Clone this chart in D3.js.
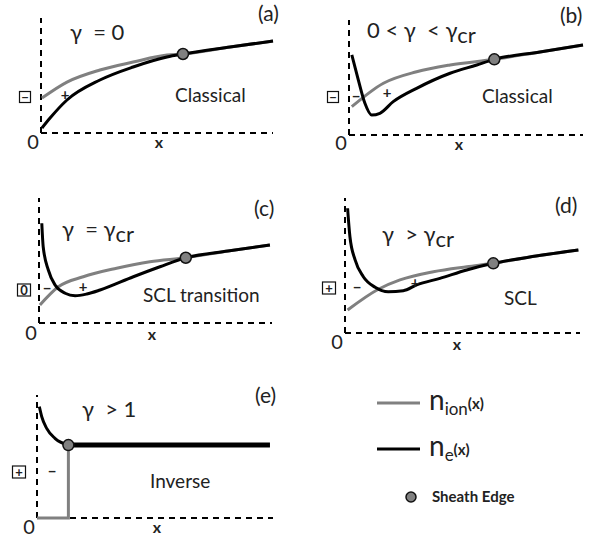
<!DOCTYPE html>
<html>
<head>
<meta charset="utf-8">
<script src="https://cdn.jsdelivr.net/npm/d3@7"></script>
<style>
  body { margin: 0; background: #fff; }
  text { font-family: Lato, "Liberation Sans", sans-serif; fill: #222; }
</style>
</head>
<body>
<svg id="chart" width="598" height="539"></svg>
<script>
// every panel uses normalised units: x and y both run 0..10 along the dashed axes

// (a) gamma = 0
const ionA = [[0.04, 3.04], [1.12, 4.43], [2.54, 5.48], [3.97, 6.17], [5.43, 6.78], [6.12, 6.87], [8.15, 7.48], [10, 8.0]];
const elecA = [[0.04, 0.43], [0.39, 1.3], [1.12, 2.87], [2.54, 4.61], [3.97, 5.74], [5.43, 6.61], [6.12, 6.87], [8.15, 7.48], [10, 8.0]];
const edgeA = [6.12, 6.87];

// (b) 0 < gamma < gamma_cr
const ionB = [[0.12, 2.46], [1.47, 4.5], [2.89, 5.5], [4.32, 6.09], [6.21, 6.58], [8.16, 7.22], [10, 7.83]];
const elecB = [[0.12, 6.96], [0.4, 4.78], [0.68, 2.76], [0.97, 1.74], [1.32, 1.89], [1.89, 2.9], [2.89, 4.06], [4.32, 5.37], [5.46, 6.09], [6.21, 6.58], [8.16, 7.22], [10, 7.83]];
const edgeB = [6.21, 6.58];

// (c) gamma = gamma_cr
const ionC = [[0.04, 1.44], [0.83, 2.9], [1.9, 3.7], [3.33, 4.38], [4.76, 4.9], [6.3, 5.22], [8.11, 5.76], [9.91, 6.24]];
const elecC = [[0.12, 7.98], [0.18, 6.1], [0.4, 4.24], [0.69, 3.04], [1.12, 2.38], [1.55, 2.18], [2.05, 2.32], [2.62, 2.64], [4.05, 3.7], [5.19, 4.5], [6.3, 5.22], [8.11, 5.76], [9.91, 6.24]];
const edgeC = [6.3, 5.22];

// (d) gamma > gamma_cr
const ionD = [[0.11, 1.7], [1.42, 3.24], [2.34, 3.93], [3.76, 4.54], [5.18, 4.91], [6.31, 5.16], [8.13, 5.7], [9.93, 6.15]];
const elecD = [[0.11, 9.24], [0.21, 7.13], [0.43, 5.41], [0.78, 4.17], [1.28, 3.39], [1.84, 3.06], [2.48, 3.13], [3.05, 3.56], [4.04, 4.05], [5.18, 4.67], [6.31, 5.16], [8.13, 5.7], [9.93, 6.15]];
const edgeD = [6.31, 5.16];

// (e) gamma > 1
const ionE = [[0, 0], [1.33, 0], [1.33, 5.93], [9.87, 5.93]];
const elecE = [[0.1, 9.05], [0.2, 8.24], [0.41, 7.29], [0.76, 6.48], [1.33, 5.93], [9.87, 5.93]];
const edgeE = [1.33, 5.93];

// titles: [text, subscript?]
const titleA = [["\u03b3  = 0", 0]];
const titleB = [["0 < \u03b3  < \u03b3", 0], ["cr", 1]];
const titleC = [["\u03b3  = \u03b3", 0], ["cr", 1]];
const titleD = [["\u03b3  > \u03b3", 0], ["cr", 1]];
const titleE = [["\u03b3  > 1", 0]];

const tags = ["(a)", "(b)", "(c)", "(d)", "(e)"];
const regimes = ["Classical", "Classical", "SCL transition", "SCL", "Inverse"];
const wallSigns = ["\u2212", "\u2212", "0", "+", "+"];
const legendItems = ["ion", "e"];

// panel frames (pixel layout only)
const panels = [
  { x0: 41, x1: 273, y0: 133, y1: 18, ion: ionA, elec: elecA, edge: edgeA, title: titleA,
    tx: 70, ty: 40, tagX: 258, tagY: 21, rx: 175, ry: 102, box: [25, 97, 11, 11], zeroY: 149, xLabY: 148, xLabX: 159,
    signs: [["+", 65, 100]] },
  { x0: 349, x1: 583, y0: 135, y1: 20, ion: ionB, elec: elecB, edge: edgeB, title: titleB,
    tx: 367, ty: 38, tagX: 560, tagY: 23, rx: 482, ry: 103, box: [333, 97, 11, 11], zeroY: 150, xLabY: 150, xLabX: 459,
    signs: [["\u2212", 356, 102], ["+", 387, 98]] },
  { x0: 39, x1: 272, y0: 323, y1: 198, ion: ionC, elec: elecC, edge: edgeC, title: titleC,
    tx: 62, ty: 237, tagX: 254, tagY: 216, rx: 143, ry: 302, box: [24, 290, 13, 12], zeroY: 340, xLabY: 340, xLabX: 152,
    signs: [["\u2212", 47, 294], ["+", 83, 292]] },
  { x0: 345, x1: 580, y0: 333, y1: 198, ion: ionD, elec: elecD, edge: edgeD, title: titleD,
    tx: 382, ty: 242, tagX: 555, tagY: 213, rx: 504, ry: 305, box: [329, 288, 13, 12], zeroY: 349, xLabY: 350, xLabX: 457,
    signs: [["\u2212", 357, 293], ["+", 415, 288]] },
  { x0: 37, x1: 273, y0: 518, y1: 395, ion: ionE, elec: elecE, edge: edgeE, title: titleE,
    tx: 82, ty: 417, tagX: 255, tagY: 403, rx: 150, ry: 488, box: [19, 472, 13, 12], zeroY: 534, xLabY: 533, xLabX: 157,
    signs: [["\u2212", 52, 477]] }
];

const GRAY = "#808080";
const svg = d3.select("#chart");

panels.forEach(function(p, i) {
  let x = d3.scaleLinear().domain([0, 10]).range([p.x0, p.x1]);
  let y = d3.scaleLinear().domain([0, 10]).range([p.y0, p.y1]);
  let g = svg.append("g").attr("id", "panel_" + tags[i].slice(1, 2));

  // dashed axes
  g.append("line")
    .attr("x1", x(0)).attr("y1", y(0)).attr("x2", x(10)).attr("y2", y(0))
    .attr("stroke", "#000").attr("stroke-width", 2).attr("stroke-dasharray", "6,5");
  g.append("line")
    .attr("x1", x(0)).attr("y1", y(0)).attr("x2", x(0)).attr("y2", y(10))
    .attr("stroke", "#000").attr("stroke-width", 2).attr("stroke-dasharray", "6,5");

  let smooth = d3.line()
    .x(function(d) { return x(d[0]); })
    .y(function(d) { return y(d[1]); })
    .curve(d3.curveMonotoneX);
  let straight = d3.line()
    .x(function(d) { return x(d[0]); })
    .y(function(d) { return y(d[1]); });

  if (i === 4) {
    g.append("path").attr("d", straight(p.ion))
      .attr("fill", "none").attr("stroke", GRAY).attr("stroke-width", 3);
    let k = p.elec.findIndex(function(d) { return d[0] === p.edge[0]; });
    g.append("path").attr("d", smooth(p.elec.slice(0, k + 1)))
      .attr("fill", "none").attr("stroke", "#000").attr("stroke-width", 3);
    g.append("path").attr("d", straight(p.elec.slice(k)))
      .attr("fill", "none").attr("stroke", GRAY).attr("stroke-width", 6);
    g.append("path").attr("d", straight(p.elec.slice(k)))
      .attr("fill", "none").attr("stroke", "#000").attr("stroke-width", 4);
  } else {
    g.append("path").attr("d", smooth(p.ion))
      .attr("fill", "none").attr("stroke", GRAY).attr("stroke-width", 3);
    g.append("path").attr("d", smooth(p.elec))
      .attr("fill", "none").attr("stroke", "#000").attr("stroke-width", 3);
  }

  // sheath edge
  g.append("circle")
    .attr("cx", x(p.edge[0])).attr("cy", y(p.edge[1])).attr("r", 5.5)
    .attr("fill", GRAY).attr("stroke", "#111").attr("stroke-width", 1.5);

  // title with subscripts
  let t = g.append("text").attr("x", p.tx).attr("y", p.ty)
    .style("font-size", "22px").attr("xml:space", "preserve");
  p.title.forEach(function(part) {
    t.append("tspan")
      .attr("dy", part[1] ? 5 : 0)
      .text(part[0]);
  });

  g.append("text").attr("x", p.tagX).attr("y", p.tagY)
    .style("font-size", "21px").text(tags[i]);

  g.append("text").attr("x", p.rx).attr("y", p.ry)
    .style("font-size", "19px").text(regimes[i]);

  // wall charge box
  g.append("rect")
    .attr("x", p.box[0] - p.box[2] / 2).attr("y", p.box[1] - p.box[3] / 2)
    .attr("width", p.box[2]).attr("height", p.box[3])
    .attr("fill", "none").attr("stroke", "#111").attr("stroke-width", 1.2);
  g.append("text").attr("x", p.box[0]).attr("y", p.box[1] + 4.5)
    .attr("text-anchor", "middle")
    .style("font-size", "13px")
    .style("font-weight", "bold")
    .text(wallSigns[i]);

  p.signs.forEach(function(s) {
    g.append("text").attr("x", s[1]).attr("y", s[2])
      .attr("text-anchor", "middle")
      .style("font-size", "15px").style("font-weight", "bold")
      .text(s[0]);
  });

  g.append("text").attr("x", p.x0 - 8).attr("y", p.zeroY)
    .attr("text-anchor", "middle").style("font-size", "20px").text("0");
  g.append("text").attr("x", p.xLabX).attr("y", p.xLabY)
    .attr("text-anchor", "middle").style("font-size", "16px").style("font-weight", "bold").text("x");
});

// legend
let leg = svg.append("g").attr("id", "legend");
legendItems.forEach(function(name, i) {
  let ly = 403 + i * 46;
  leg.append("line")
    .attr("x1", 377).attr("x2", 420).attr("y1", ly).attr("y2", ly)
    .attr("stroke", i === 0 ? GRAY : "#000").attr("stroke-width", 3);
  let t = leg.append("text").attr("x", 429).attr("y", ly + 7);
  t.append("tspan").style("font-size", "28px").text("n");
  t.append("tspan").style("font-size", "17px").attr("dy", 5).text(name);
  t.append("tspan").style("font-size", "15px").style("font-weight", "bold").attr("dy", -6).text("(x)");
});
leg.append("circle").attr("cx", 411).attr("cy", 497).attr("r", 5)
  .attr("fill", GRAY).attr("stroke", "#111").attr("stroke-width", 1.5);
leg.append("text").attr("x", 432).attr("y", 502)
  .style("font-size", "15px").style("font-weight", "bold").text("Sheath Edge");
</script>
</body>
</html>
